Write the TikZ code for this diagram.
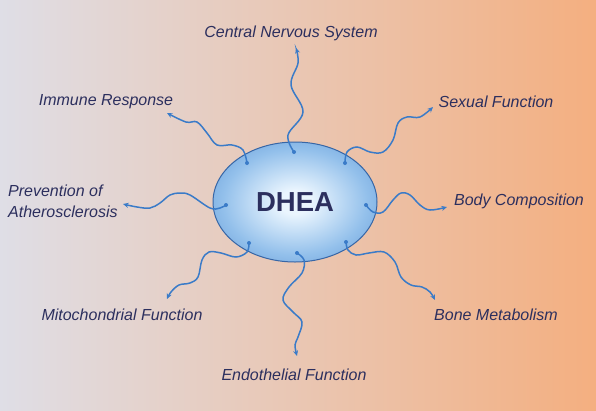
\documentclass[tikz,border=0pt]{standalone}
\usepackage{fontspec}
\setmainfont{Liberation Sans}
\usetikzlibrary{arrows.meta,shapes.geometric}

\definecolor{bgleft}{HTML}{DFDEE6}
\definecolor{bgmid}{HTML}{EDC5AC}
\definecolor{bgright}{HTML}{F4AF80}
\definecolor{wave}{HTML}{3A7BC8}
\definecolor{labelblue}{HTML}{2C2F5E}
\definecolor{dheacore}{HTML}{EAF5FE}
\definecolor{dheamid}{HTML}{93C0EB}
\definecolor{dheaedge}{HTML}{4A85CC}
\definecolor{dhealine}{HTML}{3766A6}

\pgfdeclareradialshading{dheaglow}{\pgfpoint{0bp}{0bp}}{%
  color(0bp)=(dheacore); color(5bp)=(dheacore); color(22bp)=(dheamid);
  color(42bp)=(dheaedge); color(50bp)=(dheaedge)}

\tikzset{
  effect/.style={draw=wave, line width=1.5pt, line cap=round,
    -{Stealth[length=5.5pt,width=5pt]}},
  effectlabel/.style={font=\fontsize{16}{21}\selectfont\itshape,
    text=labelblue, inner sep=1pt},
  startdot/.style={circle, fill=wave, inner sep=0pt, minimum size=4pt}
}

\begin{document}
\begin{tikzpicture}[x=1pt,y=-1pt]
  \useasboundingbox (0,0) rectangle (596,410);
  \shade[left color=bgleft, middle color=bgmid, right color=bgright]
    (0,0) rectangle (596,410);

  % centre
  \node[ellipse, draw=dhealine, line width=1pt, shading=dheaglow,
    minimum width=164pt, minimum height=120pt, text=labelblue,
    font=\fontsize{27.5}{30}\selectfont\bfseries] (dhea) at (295,202) {DHEA};

  % labels
  \node[effectlabel] (cns) at (291,33) {Central Nervous System};
  \node[effectlabel] (immune) at (106,102) {Immune Response};
  \node[effectlabel] (sexual) at (496,102) {Sexual Function};
  \node[effectlabel, align=left, anchor=west] (athero) at (7,201)
    {Prevention of\\Atherosclerosis};
  \node[effectlabel] (body) at (519,201) {Body Composition};
  \node[effectlabel] (mito) at (122,315) {Mitochondrial Function};
  \node[effectlabel] (bone) at (496,315) {Bone Metabolism};
  \node[effectlabel] (endo) at (294,375) {Endothelial Function};

  % start and end points of the waves
  \coordinate (cnsS) at (294,152);    \coordinate (cnsE) at (296,48);
  \coordinate (immuneS) at (247,163); \coordinate (immuneE) at (167,113);
  \coordinate (sexualS) at (345,163); \coordinate (sexualE) at (433,107);
  \coordinate (bodyS) at (366,205);   \coordinate (bodyE) at (447,207);
  \coordinate (atheroS) at (226,205); \coordinate (atheroE) at (123,204);
  \coordinate (mitoS) at (249,243);   \coordinate (mitoE) at (167,299);
  \coordinate (endoS) at (297,253);   \coordinate (endoE) at (297,356);
  \coordinate (boneS) at (346,242);   \coordinate (boneE) at (435,300);

  \draw[effect] plot[smooth, tension=0.6] coordinates
    {(cnsS) (288,135) (303,112) (291,85) (298,63) (cnsE)};
  \draw[effect] plot[smooth, tension=0.6] coordinates
    {(immuneS) (243,150) (232,145) (217,145) (207,133) (197,122) (186,122) (immuneE)};
  \draw[effect] plot[smooth, tension=0.6] coordinates
    {(sexualS) (347,152) (357,147) (370,152) (383,152) (393,140) (398,123)
     (407,117) (420,117) (sexualE)};
  \draw[effect] plot[smooth, tension=0.6] coordinates
    {(bodyS) (373,212) (383,212) (393,200) (401,193) (410,195) (420,205)
     (430,210) (bodyE)};
  \draw[effect] plot[smooth, tension=0.6] coordinates
    {(atheroS) (220,208) (210,208) (190,195) (180,193) (170,195) (160,203)
     (150,208) (137,207) (atheroE)};
  \draw[effect] plot[smooth, tension=0.6] coordinates
    {(mitoS) (247,252) (236,257) (221,253) (209,252) (202,260) (198,277)
     (190,283) (179,285) (171,292) (mitoE)};
  \draw[effect] plot[smooth, tension=0.6] coordinates
    {(endoS) (304,260) (302,273) (289,287) (283,300) (293,312) (302,322)
     (298,337) (295,345) (endoE)};
  \draw[effect] plot[smooth, tension=0.6] coordinates
    {(boneS) (348,250) (356,255) (369,253) (384,252) (395,262) (401,277)
     (411,285) (422,287) (430,292) (boneE)};

  \foreach \s in {cnsS,immuneS,sexualS,bodyS,atheroS,mitoS,endoS,boneS}
    \node[startdot] at (\s) {};
\end{tikzpicture}
\end{document}
